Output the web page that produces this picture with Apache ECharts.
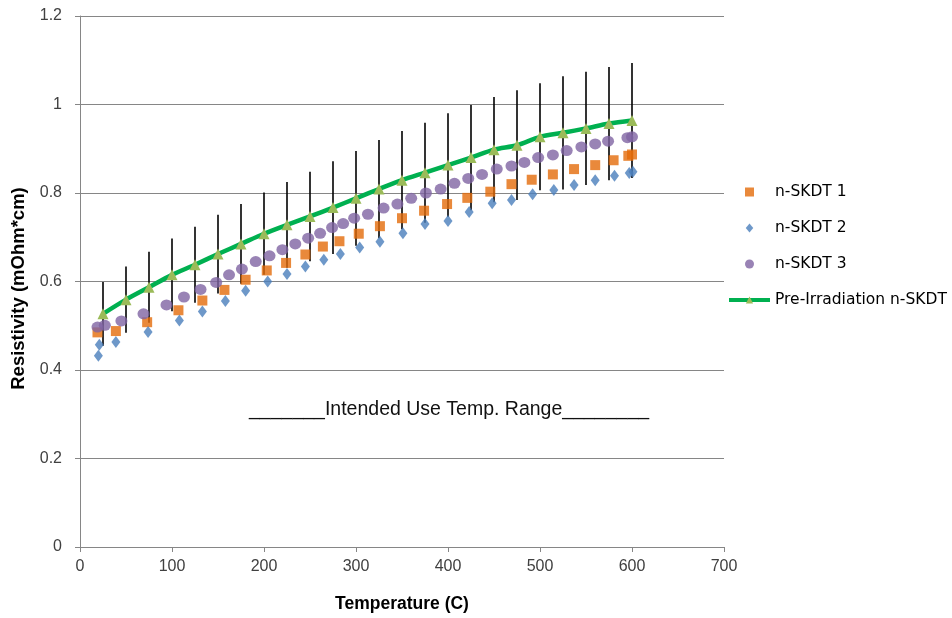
<!DOCTYPE html>
<html><head><meta charset="utf-8">
<script src="https://cdn.jsdelivr.net/npm/echarts@6/dist/echarts.min.js"></script>
<style>html,body{margin:0;padding:0;background:#fff}#c{width:952px;height:618px}</style>
</head><body><div id="c"></div>
<script>
// Pre-Irradiation n-SKDT (line with symmetric error bars)
const preTemp = [25,50,75,100,125,150,175,200,225,250,275,300,325,350,375,400,425,450,475,500,525,550,575,600];
const preVals = [0.527,0.559,0.587,0.615,0.638,0.662,0.685,0.708,0.728,0.747,0.767,0.788,0.809,0.829,0.846,0.863,0.880,0.898,0.908,0.927,0.936,0.946,0.957,0.964];
const preErr  = [0.072,0.075,0.080,0.082,0.086,0.089,0.090,0.093,0.097,0.101,0.105,0.107,0.111,0.111,0.113,0.117,0.119,0.119,0.124,0.121,0.128,0.128,0.128,0.130];

// n-SKDT 1
const s1Temp = [19,39,73,107,133,157,180,203,224,245,264,282,303,326,350,374,399,421,446,469,491,514,537,560,580,596,600];
const s1Vals = [0.485,0.488,0.508,0.535,0.557,0.581,0.604,0.625,0.642,0.661,0.679,0.691,0.708,0.725,0.743,0.760,0.775,0.789,0.803,0.820,0.830,0.842,0.854,0.863,0.874,0.884,0.887];

// n-SKDT 2
const s2Temp = [20,21,39,74,108,133,158,180,204,225,245,265,283,304,326,351,375,400,423,448,469,492,515,537,560,581,597,601];
const s2Vals = [0.432,0.457,0.463,0.486,0.512,0.532,0.556,0.579,0.600,0.617,0.634,0.649,0.662,0.677,0.690,0.709,0.730,0.737,0.757,0.777,0.784,0.797,0.807,0.818,0.829,0.839,0.845,0.848];

// n-SKDT 3
const s3Temp = [19,27,45,69,94,113,131,148,162,176,191,206,220,234,248,261,274,286,298,313,330,345,360,376,392,407,422,437,453,469,483,498,514,529,545,560,574,595,600];
const s3Vals = [0.497,0.501,0.511,0.527,0.547,0.565,0.582,0.598,0.615,0.628,0.645,0.658,0.672,0.685,0.698,0.709,0.722,0.731,0.743,0.752,0.766,0.775,0.788,0.800,0.809,0.822,0.833,0.842,0.854,0.861,0.869,0.880,0.886,0.896,0.904,0.911,0.917,0.925,0.927];

const seriesNames = ['n-SKDT 1','n-SKDT 2','n-SKDT 3','Pre-Irradiation n-SKDT'];
const annotation = '_______Intended Use Temp. Range________';

const zip = (a,b) => a.map((v,i)=>[v,b[i]]);
const errData = preTemp.map((t,i)=>[t, preVals[i]-preErr[i], preVals[i]+preErr[i]]);

const chart = echarts.init(document.getElementById('c'), null, {renderer:'canvas'});
const axisGray = '#868686';
const tickFont = {fontFamily:'Liberation Sans', fontSize:16, color:'#404040'};
chart.setOption({
  animation:false,
  backgroundColor:'#fff',
  grid:{left:80, right:228, top:16, bottom:69, containLabel:false},
  xAxis:{
    type:'value', min:0, max:700, interval:100,
    axisLine:{show:true, lineStyle:{color:axisGray, width:1}},
    axisTick:{show:true, length:5, lineStyle:{color:axisGray}},
    splitLine:{show:false},
    axisLabel:Object.assign({margin:12}, tickFont),
    name:'Temperature (C)', nameLocation:'middle', nameGap:48,
    nameTextStyle:{fontFamily:'Liberation Sans', fontWeight:'bold', fontSize:17.5, color:'#000'}
  },
  yAxis:{
    type:'value', min:0, max:1.2, interval:0.2,
    axisLine:{show:true, lineStyle:{color:axisGray, width:1}},
    axisTick:{show:true, length:5, lineStyle:{color:axisGray}},
    splitLine:{show:true, lineStyle:{color:axisGray, width:1}},
    axisLabel:Object.assign({margin:18}, tickFont),
    name:'Resistivity (mOhm*cm)', nameLocation:'middle', nameGap:46, nameRotate:90,
    nameTextStyle:{fontFamily:'Liberation Sans', fontWeight:'bold', fontSize:18.5, color:'#000', padding:[0,14,0,0]}
  },
  legend:{
    data:[
      {name:seriesNames[0], icon:'path://M0,0L10,0L10,10L0,10Z'},
      {name:seriesNames[1], icon:'path://M5,0L10,6L5,12L0,6Z'},
      {name:seriesNames[2], icon:'path://M5,0A5,5,0,1,1,5,10A5,5,0,1,1,5,0Z'},
      {name:seriesNames[3]}
    ],
    orient:'vertical', left:722, top:179,
    itemWidth:41, itemHeight:9, itemGap:20,
    lineStyle:{width:4},
    textStyle:{fontFamily:'DejaVu Sans', fontSize:15.5, color:'#000'}
  },
  graphic:[{type:'text', left:249, top:400, style:{text:annotation, font:'19.5px "Liberation Sans"', fill:'#111'}}],
  series:[
    {name:'err', type:'custom', z:1, silent:true,
     renderItem:(params, api)=>{
       const p1 = api.coord([api.value(0), api.value(1)]);
       const p2 = api.coord([api.value(0), api.value(2)]);
       return {type:'line', shape:{x1:p1[0], y1:p1[1], x2:p2[0], y2:p2[1]}, style:{stroke:'#000', lineWidth:1.6}};
     },
     encode:{x:0, y:[1,2]}, data:errData},
    {name:seriesNames[0], type:'scatter', z:4, symbol:'rect', symbolSize:10,
     itemStyle:{color:'#E46C0A'}, data:zip(s1Temp,s1Vals)},
    {name:seriesNames[1], type:'scatter', z:4, symbol:'diamond', symbolSize:[9,12],
     itemStyle:{color:'#4A7EBB'}, data:zip(s2Temp,s2Vals)},
    {name:seriesNames[2], type:'scatter', z:4, symbol:'circle', symbolSize:[12,11],
     itemStyle:{color:'#8064A2'}, data:zip(s3Temp,s3Vals)},
    {name:seriesNames[3], type:'line', z:3, smooth:0.3, symbol:'triangle', symbolSize:11,
     lineStyle:{color:'#00B050', width:4.5}, itemStyle:{color:'#9BBB59'},
     data:zip(preTemp,preVals)}
  ]
});
</script>
</body></html>
